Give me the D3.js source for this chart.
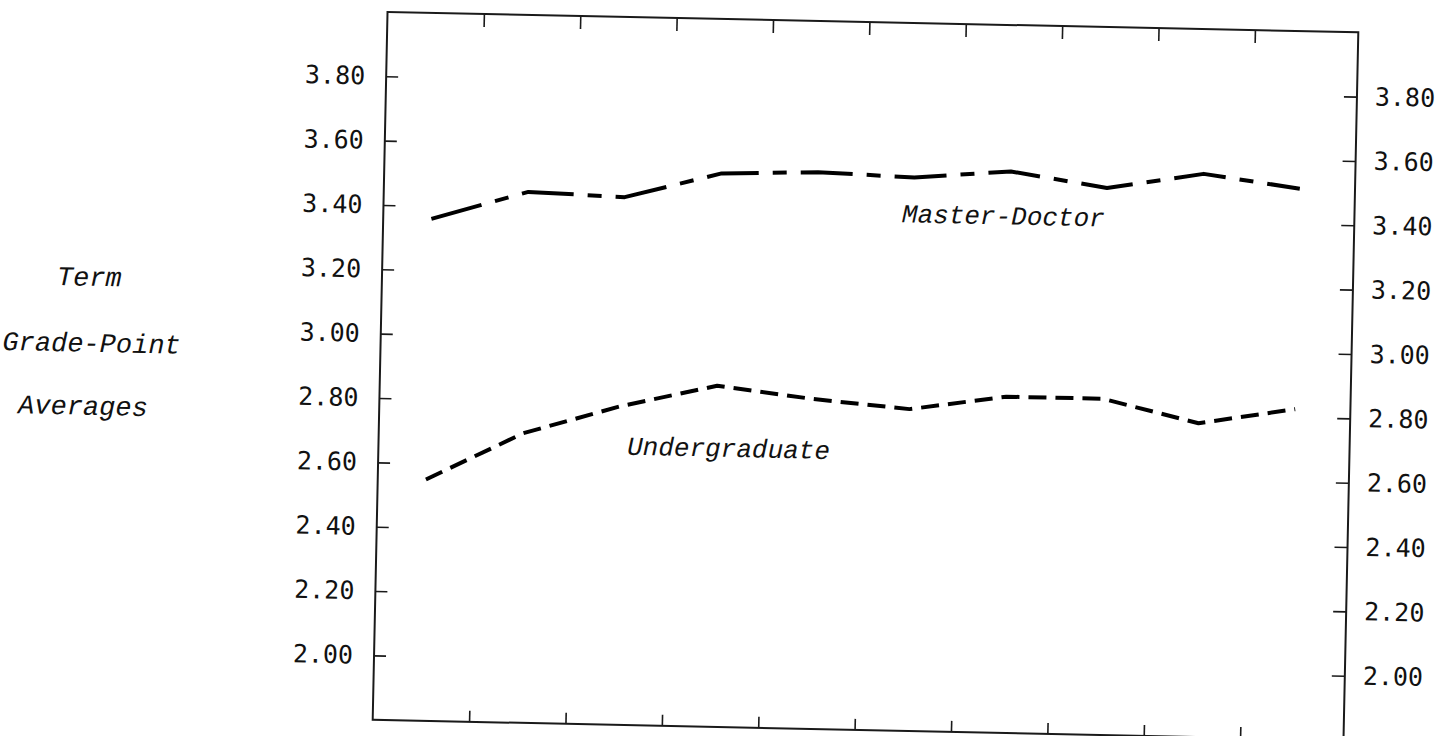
<!DOCTYPE html>
<html><head><meta charset="utf-8">
<script src="https://cdn.jsdelivr.net/npm/d3@7"></script>
<style>html,body{margin:0;padding:0;background:#fff;} svg{display:block;}</style>
</head><body>
<svg id="chart" width="1442" height="736"></svg>
<script>
// ---- data ----
const terms = [1, 2, 3, 4, 5, 6, 7, 8, 9, 10];
const masterDoctor = [3.36, 3.45, 3.44, 3.52, 3.53, 3.52, 3.545, 3.50, 3.55, 3.51];
const undergraduate = [2.55, 2.70, 2.79, 2.86, 2.825, 2.80, 2.845, 2.845, 2.775, 2.825];
const yTicks = [2.00, 2.20, 2.40, 2.60, 2.80, 3.00, 3.20, 3.40, 3.60, 3.80];
const yTickLabels = ["2.00", "2.20", "2.40", "2.60", "2.80", "3.00", "3.20", "3.40", "3.60", "3.80"];
const xTicks = [1, 2, 3, 4, 5, 6, 7, 8, 9];
const axisTitleLines = ["Term", "Grade-Point", "Averages"];
const seriesNames = ["Master-Doctor", "Undergraduate"];

// ---- layout ----
const frame = {left: 380, right: 1351, top: 22, bottom: 730};
const tilt = {angle: 1.2, cx: 865, cy: 376};
const seriesLabelAt = [{x: 5.38, y: 3.38}, {x: 2.58, y: 2.64}];
const titleAt = [{x: 55, y: 302}, {x: 2, y: 368}, {x: 19, y: 431}];

const svg = d3.select("#chart");
const g = svg.append("g").attr("transform", `rotate(${tilt.angle},${tilt.cx},${tilt.cy})`);

const x = d3.scaleLinear().domain([0, 10]).range([frame.left, 1344]);
const y = d3.scaleLinear().domain([1.8, 4.0]).range([frame.bottom, frame.top]);

// frame
g.append("rect")
  .attr("x", frame.left).attr("y", frame.top)
  .attr("width", frame.right - frame.left).attr("height", frame.bottom - frame.top)
  .attr("fill", "none").attr("stroke", "#1a1a1a").attr("stroke-width", 2);

const tickFont = "'DejaVu Sans Mono', monospace";
function styleAxis(sel) {
  sel.select(".domain").remove();
  sel.selectAll(".tick line").attr("stroke", "#1a1a1a").attr("stroke-width", 1.6);
  sel.selectAll(".tick text").attr("font-family", tickFont).attr("font-size", 25).attr("fill", "#111");
}
const fmt = d => yTickLabels[yTicks.indexOf(d)];

g.append("g").attr("transform", `translate(${frame.left},0)`)
  .call(d3.axisLeft(y).tickValues(yTicks).tickFormat(fmt).tickSize(-12).tickSizeOuter(0).tickPadding(21))
  .call(styleAxis);
g.append("g").attr("transform", `translate(${frame.right},0)`)
  .call(d3.axisRight(y).tickValues(yTicks).tickFormat(fmt).tickSize(-13).tickSizeOuter(0).tickPadding(18))
  .call(styleAxis);
g.append("g").attr("transform", `translate(0,${frame.top})`)
  .call(d3.axisTop(x).tickValues(xTicks).tickFormat("").tickSize(-13).tickSizeOuter(0))
  .call(styleAxis);
g.append("g").attr("transform", `translate(0,${frame.bottom})`)
  .call(d3.axisBottom(x).tickValues(xTicks).tickFormat("").tickSize(-11).tickSizeOuter(0))
  .call(styleAxis);

// lines
const line = d3.line().x((d, i) => x(i + 0.5)).y(d => y(d));
g.append("path").datum(masterDoctor).attr("d", line)
  .attr("fill", "none").attr("stroke", "#000").attr("stroke-width", 4)
  .attr("stroke-dasharray", "52 14 14 14").attr("stroke-linejoin", "round");
g.append("path").datum(undergraduate).attr("d", line)
  .attr("fill", "none").attr("stroke", "#000").attr("stroke-width", 4)
  .attr("stroke-dasharray", "18 9").attr("stroke-linejoin", "round");

// labels
const italic = "'Liberation Mono', 'Courier New', monospace";
g.selectAll("text.series").data(seriesNames).enter().append("text")
  .attr("class", "series")
  .attr("x", (d, i) => x(seriesLabelAt[i].x))
  .attr("y", (d, i) => y(seriesLabelAt[i].y))
  .attr("font-family", italic).attr("font-style", "italic").attr("font-size", 26).attr("fill", "#111")
  .text(d => d);

g.selectAll("text.title").data(axisTitleLines).enter().append("text")
  .attr("class", "title")
  .attr("x", (d, i) => titleAt[i].x)
  .attr("y", (d, i) => titleAt[i].y)
  .attr("font-family", italic).attr("font-style", "italic").attr("font-size", 27).attr("fill", "#111")
  .text(d => d);
</script>
</body></html>
